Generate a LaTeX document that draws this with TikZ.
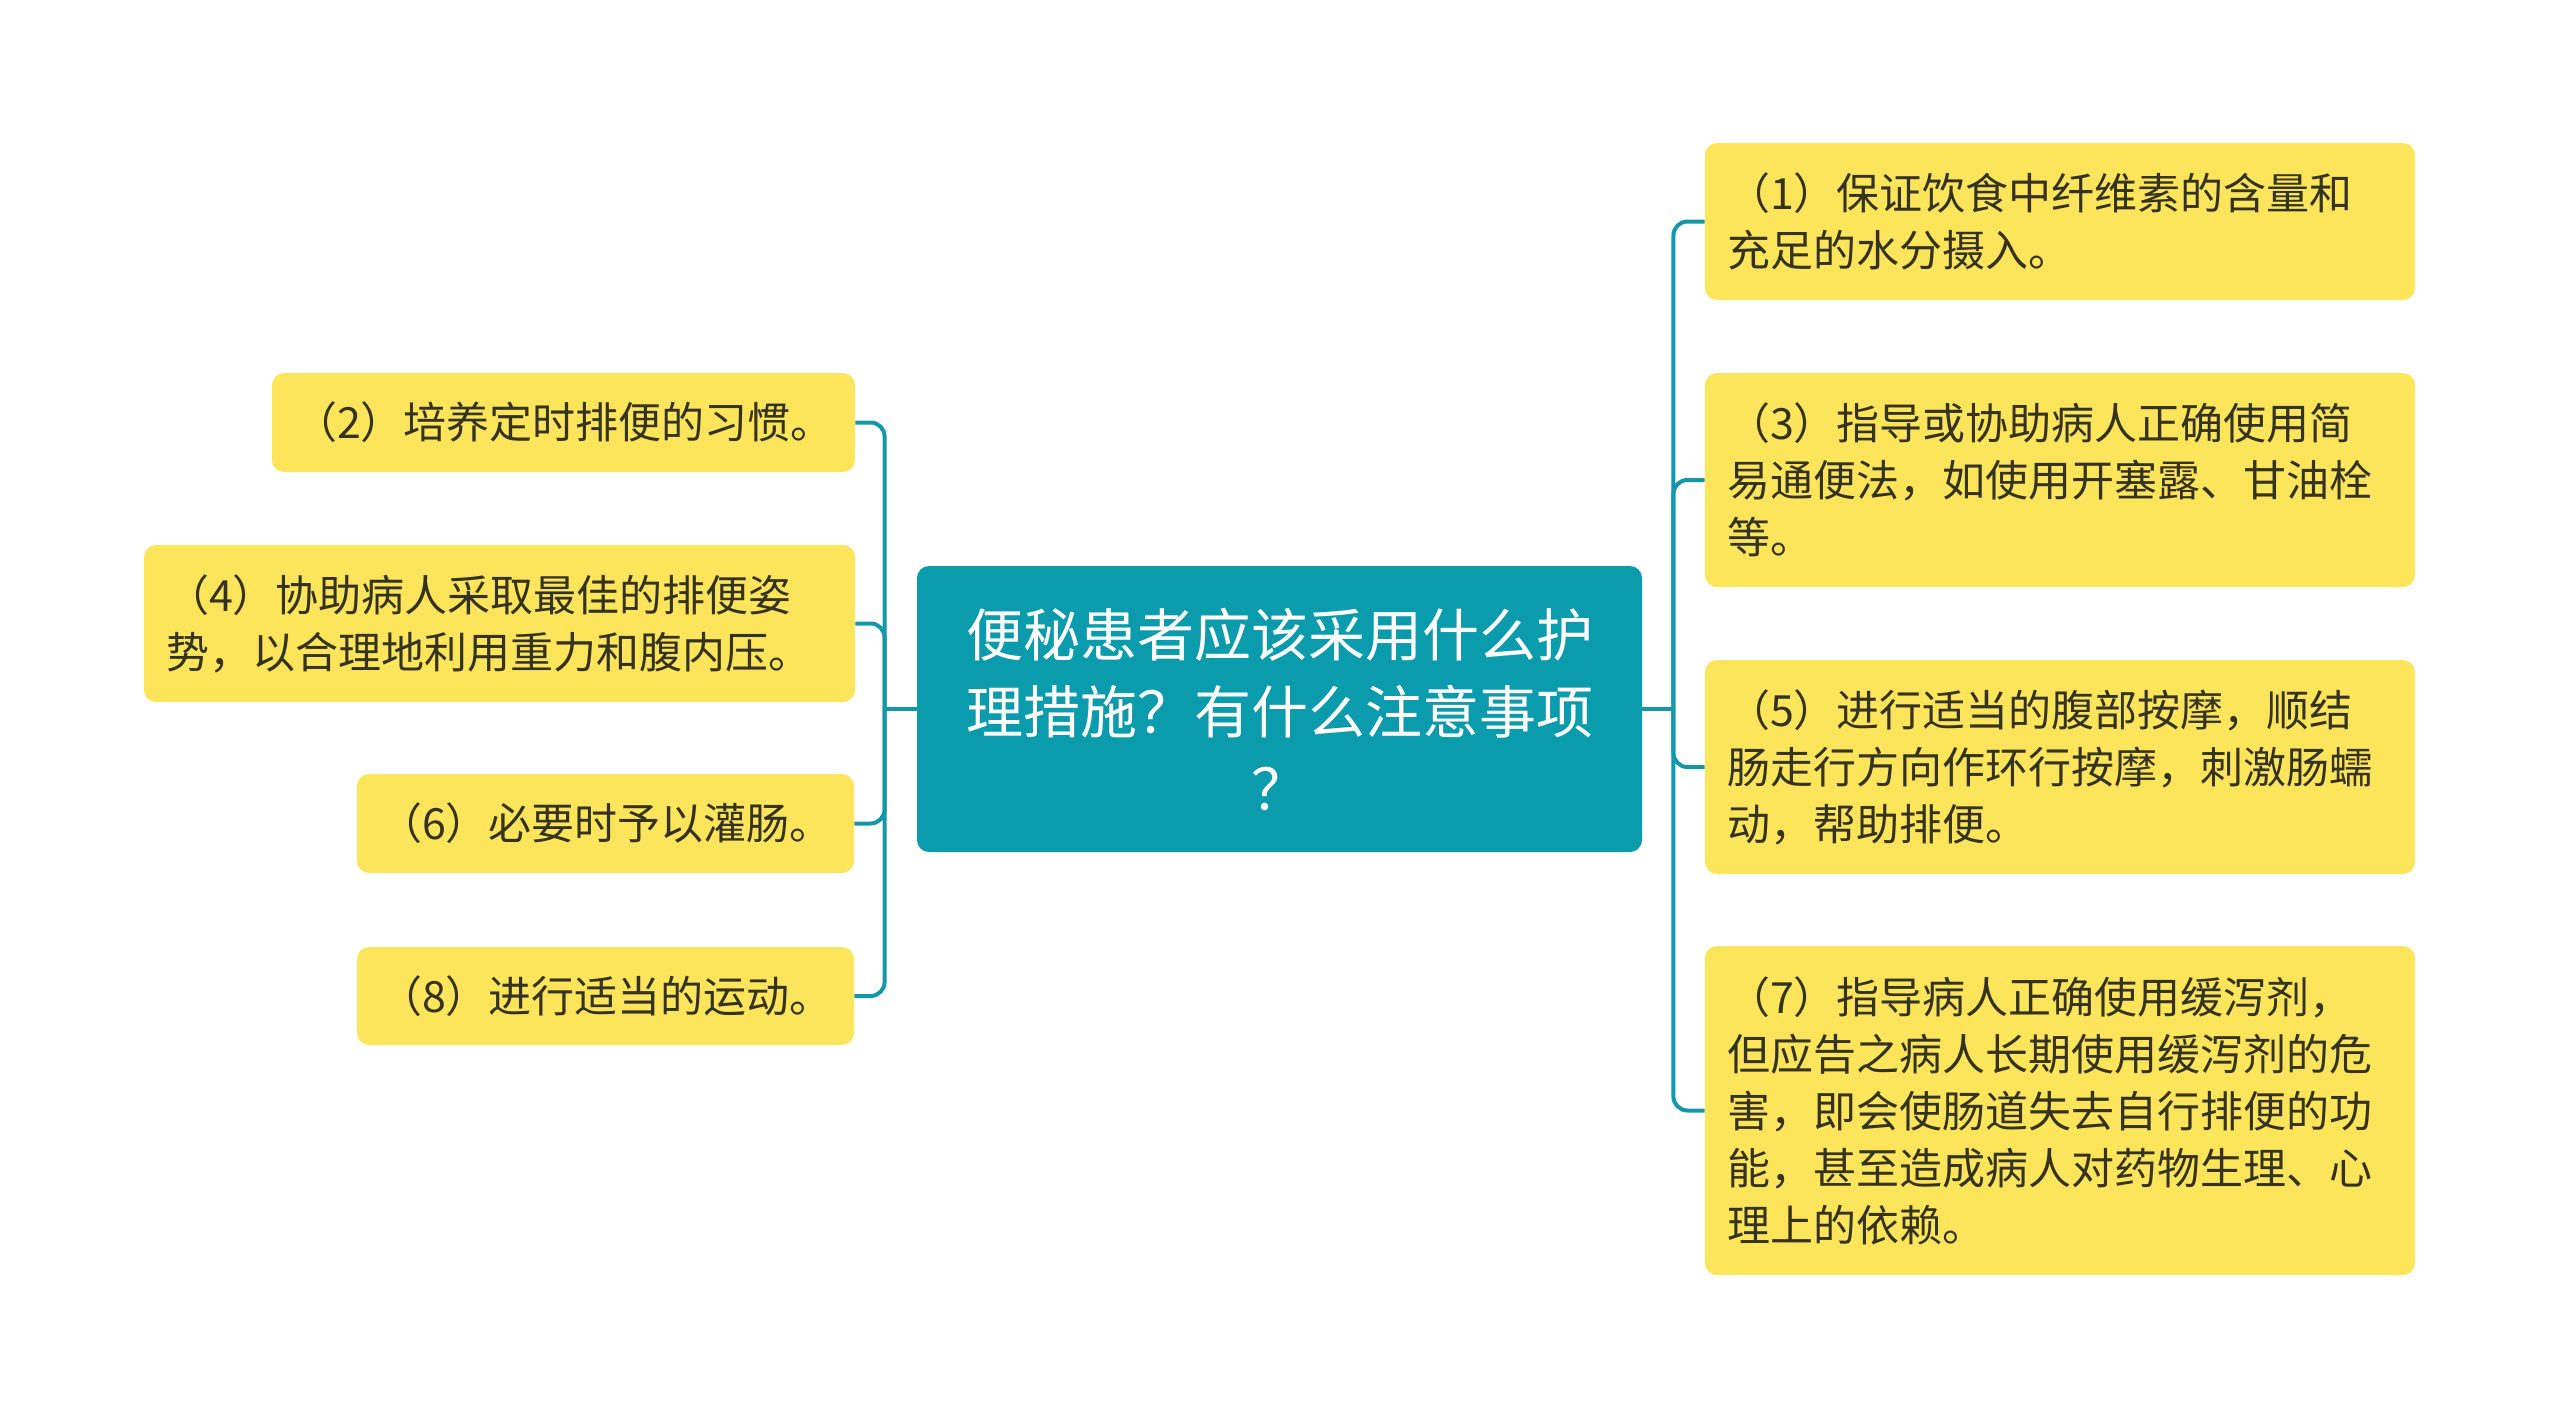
\documentclass[tikz,border=0pt]{standalone}
\usepackage{fontspec}
\setmainfont{Noto Sans CJK SC}
\newfontfamily\cjk{Noto Sans CJK SC}
\definecolor{rootc}{HTML}{0A9CAD}
\definecolor{linec}{HTML}{1398AA}
\definecolor{leafy}{HTML}{FDE55B}
\definecolor{txt}{HTML}{33331F}
\begin{document}
\begin{tikzpicture}[x=0.5pt,y=-0.5pt,
  leaf/.style={fill=leafy, rounded corners=6pt, text=txt, align=left,
    font=\cjk\fontsize{21.5pt}{28.5pt}\selectfont, inner xsep=11pt, inner ysep=0pt},
  rootbox/.style={fill=rootc, rounded corners=6pt, text=white, align=center,
    font=\cjk\fontsize{28.5pt}{38.5pt}\selectfont, inner sep=0pt},
  conn/.style={draw=linec, line width=2pt, rounded corners=7pt}]
\useasboundingbox (0,0) rectangle (2560,1419);
\node[rootbox, minimum width=362.5pt, minimum height=143pt] (c) at (1279.5,709)
  {便秘患者应该采用什么护\\理措施？有什么注意事项\\？};
% right side
\node[leaf, text width=333pt, minimum height=78.5pt] (r1) at (2060,221.5)
  {（1）保证饮食中纤维素的含量和\\充足的水分摄入。};
\node[leaf, text width=333pt, minimum height=107pt] (r3) at (2060,480)
  {（3）指导或协助病人正确使用简\\易通便法，如使用开塞露、甘油栓\\等。};
\node[leaf, text width=333pt, minimum height=107pt] (r5) at (2060,767)
  {（5）进行适当的腹部按摩，顺结\\肠走行方向作环行按摩，刺激肠蠕\\动，帮助排便。};
\node[leaf, text width=333pt, minimum height=164.5pt] (r7) at (2060,1110.5)
  {（7）指导病人正确使用缓泻剂，\\但应告之病人长期使用缓泻剂的危\\害，即会使肠道失去自行排便的功\\能，甚至造成病人对药物生理、心\\理上的依赖。};
% left side
\node[leaf, text width=269.5pt, minimum height=49.5pt] (l2) at (563.5,422.5)
  {（2）培养定时排便的习惯。};
\node[leaf, text width=333.5pt, minimum height=78.5pt] (l4) at (499.5,623.5)
  {（4）协助病人采取最佳的排便姿\\势，以合理地利用重力和腹内压。};
\node[leaf, text width=226.5pt, minimum height=49.5pt] (l6) at (605.5,823.5)
  {（6）必要时予以灌肠。};
\node[leaf, text width=226.5pt, minimum height=49pt] (l8) at (605.5,996)
  {（8）进行适当的运动。};
% connectors
\path (c.west) ++(-32,0) coordinate (lj);
\path (c.east) ++(31,0) coordinate (rj);
\draw[conn] (c.west) -- (lj);
\draw[conn] (c.east) -- (rj);
\foreach \n in {l2,l4,l6,l8} \draw[conn] (lj) |- (\n.east);
\foreach \n in {r1,r3,r5,r7} \draw[conn] (rj) |- (\n.west);
\end{tikzpicture}
\end{document}
